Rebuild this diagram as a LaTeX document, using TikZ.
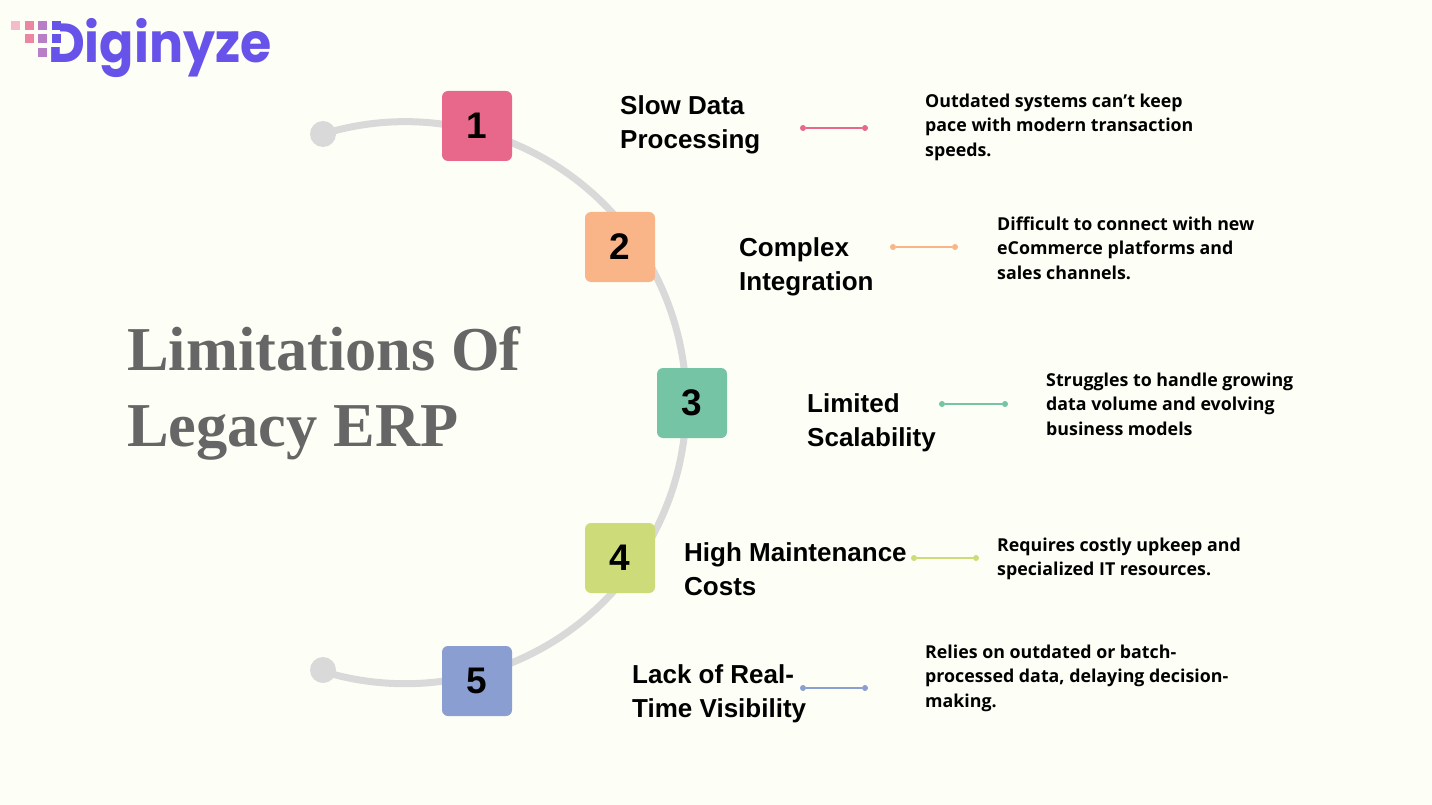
\documentclass[tikz,border=0pt]{standalone}
\usepackage{graphicx}
\usepackage{fontspec}
\setmainfont{Open Sans}
\newfontfamily\headfont{Liberation Sans}
\newfontfamily\titlefont{Liberation Serif}
\newfontfamily\logofont{Poppins}
\usepackage{xcolor}
\definecolor{pagebg}{HTML}{FDFFF6}
\definecolor{arcgray}{HTML}{D9D9D9}
\definecolor{titlegray}{HTML}{666666}
\definecolor{logoblue}{HTML}{6753EA}
\definecolor{oneclr}{HTML}{E8688B}
\definecolor{twoclr}{HTML}{F9B487}
\definecolor{threeclr}{HTML}{74C4A5}
\definecolor{fourclr}{HTML}{CDDC79}
\definecolor{fiveclr}{HTML}{8B9ED2}
\tikzset{
  numbox/.style={minimum size=70pt, inner sep=0pt, rounded corners=6pt, font=\headfont\bfseries\fontsize{37}{37}\selectfont, text=black},
  headtext/.style={anchor=west, align=left, inner sep=0pt, font=\headfont\bfseries\fontsize{26}{34}\selectfont},
  bodytext/.style={anchor=west, align=left, inner sep=0pt, font=\bfseries\fontsize{17.8}{24.5}\selectfont},
  tickdot/.style={circle, inner sep=0pt, minimum size=6pt},
  enddot/.style={circle, fill=arcgray, inner sep=0pt, minimum size=26pt},
  pixbox/.style={minimum size=9pt, inner sep=0pt},
}
\begin{document}
\begin{tikzpicture}[x=1pt, y=-1pt]
    \fill[pagebg] (0, 0) rectangle (1432, 805);
    \useasboundingbox (0, 0) rectangle (1432, 805);

    % arc and its two ends
    \node[enddot] (top) at (323, 134) {};
    \node[enddot] (bottom) at (323, 670) {};
    \draw[arcgray, line width=7pt] (top.center) arc[start angle=-107, end angle=107, radius=281];

    % numbered boxes
    \node[numbox, fill=oneclr] (n1) at (477, 126) {1};
    \node[numbox, fill=twoclr] (n2) at (620, 247) {2};
    \node[numbox, fill=threeclr] (n3) at (692, 403) {3};
    \node[numbox, fill=fourclr] (n4) at (620, 558) {4};
    \node[numbox, fill=fiveclr] (n5) at (477, 681) {5};

    % headings
    \node[headtext] (h1) at (620, 125) {Slow Data\\Processing};
    \node[headtext] (h2) at (739, 267) {Complex\\Integration};
    \node[headtext] (h3) at (807, 423) {Limited\\Scalability};
    \node[headtext] (h4) at (684, 569) {High Maintenance\\Costs};
    \node[headtext] (h5) at (632, 694) {Lack of Real-\\Time Visibility};

    % small connectors
    \node[tickdot, fill=oneclr] (a1) at (803, 128) {};
    \node[tickdot, fill=oneclr] (b1) at (865, 128) {};
    \node[tickdot, fill=twoclr] (a2) at (893, 247) {};
    \node[tickdot, fill=twoclr] (b2) at (955, 247) {};
    \node[tickdot, fill=threeclr] (a3) at (942, 404) {};
    \node[tickdot, fill=threeclr] (b3) at (1005, 404) {};
    \node[tickdot, fill=fourclr] (a4) at (914, 558) {};
    \node[tickdot, fill=fourclr] (b4) at (976, 558) {};
    \node[tickdot, fill=fiveclr] (a5) at (803, 688) {};
    \node[tickdot, fill=fiveclr] (b5) at (865, 688) {};
    \draw[oneclr, line width=1.5pt] (a1) -- (b1);
    \draw[twoclr, line width=1.5pt] (a2) -- (b2);
    \draw[threeclr, line width=1.5pt] (a3) -- (b3);
    \draw[fourclr, line width=1.5pt] (a4) -- (b4);
    \draw[fiveclr, line width=1.5pt] (a5) -- (b5);

    % descriptions
    \node[bodytext] (t1) at (925, 127) {Outdated systems can’t keep\\pace with modern transaction\\speeds.};
    \node[bodytext] (t2) at (997, 248) {Difficult to connect with new\\eCommerce platforms and\\sales channels.};
    \node[bodytext] (t3) at (1046, 404) {Struggles to handle growing\\data volume and evolving\\business models};
    \node[bodytext] (t4) at (997, 559) {Requires costly upkeep and\\specialized IT resources.};
    \node[bodytext] (t5) at (925, 678) {Relies on outdated or batch-\\processed data, delaying decision-\\making.};

    % title
    \node[anchor=west, align=left, inner sep=0pt, text=titlegray, font=\titlefont\bfseries\fontsize{62.4}{76}\selectfont] (title) at (127, 393) {Limitations Of\\Legacy ERP};

    % logo
    \node[anchor=base west, inner sep=0pt, text=logoblue, font=\logofont\bfseries\fontsize{55}{55}\selectfont] (logo) at (48, 63) {\scalebox{0.92}[1]{Diginyze}};
    \fill[pagebg] (44, 18) rectangle (60, 47.5);
    \node[pixbox, fill=oneclr!45] (p1) at (15, 26) {};
    \node[pixbox, fill=oneclr!80] (p2) at (29, 26) {};
    \node[pixbox, fill=logoblue!50!oneclr!80] (p3) at (42, 26) {};
    \node[pixbox, fill=logoblue] (p4) at (56, 26) {};
    \node[pixbox, fill=oneclr!80] (p5) at (29, 39) {};
    \node[pixbox, fill=logoblue!50!oneclr!80] (p6) at (42, 39) {};
    \node[pixbox, fill=logoblue] (p7) at (56, 39) {};
    \node[pixbox, fill=logoblue!50!oneclr!80] (p8) at (42, 52.5) {};
\end{tikzpicture}
\end{document}
